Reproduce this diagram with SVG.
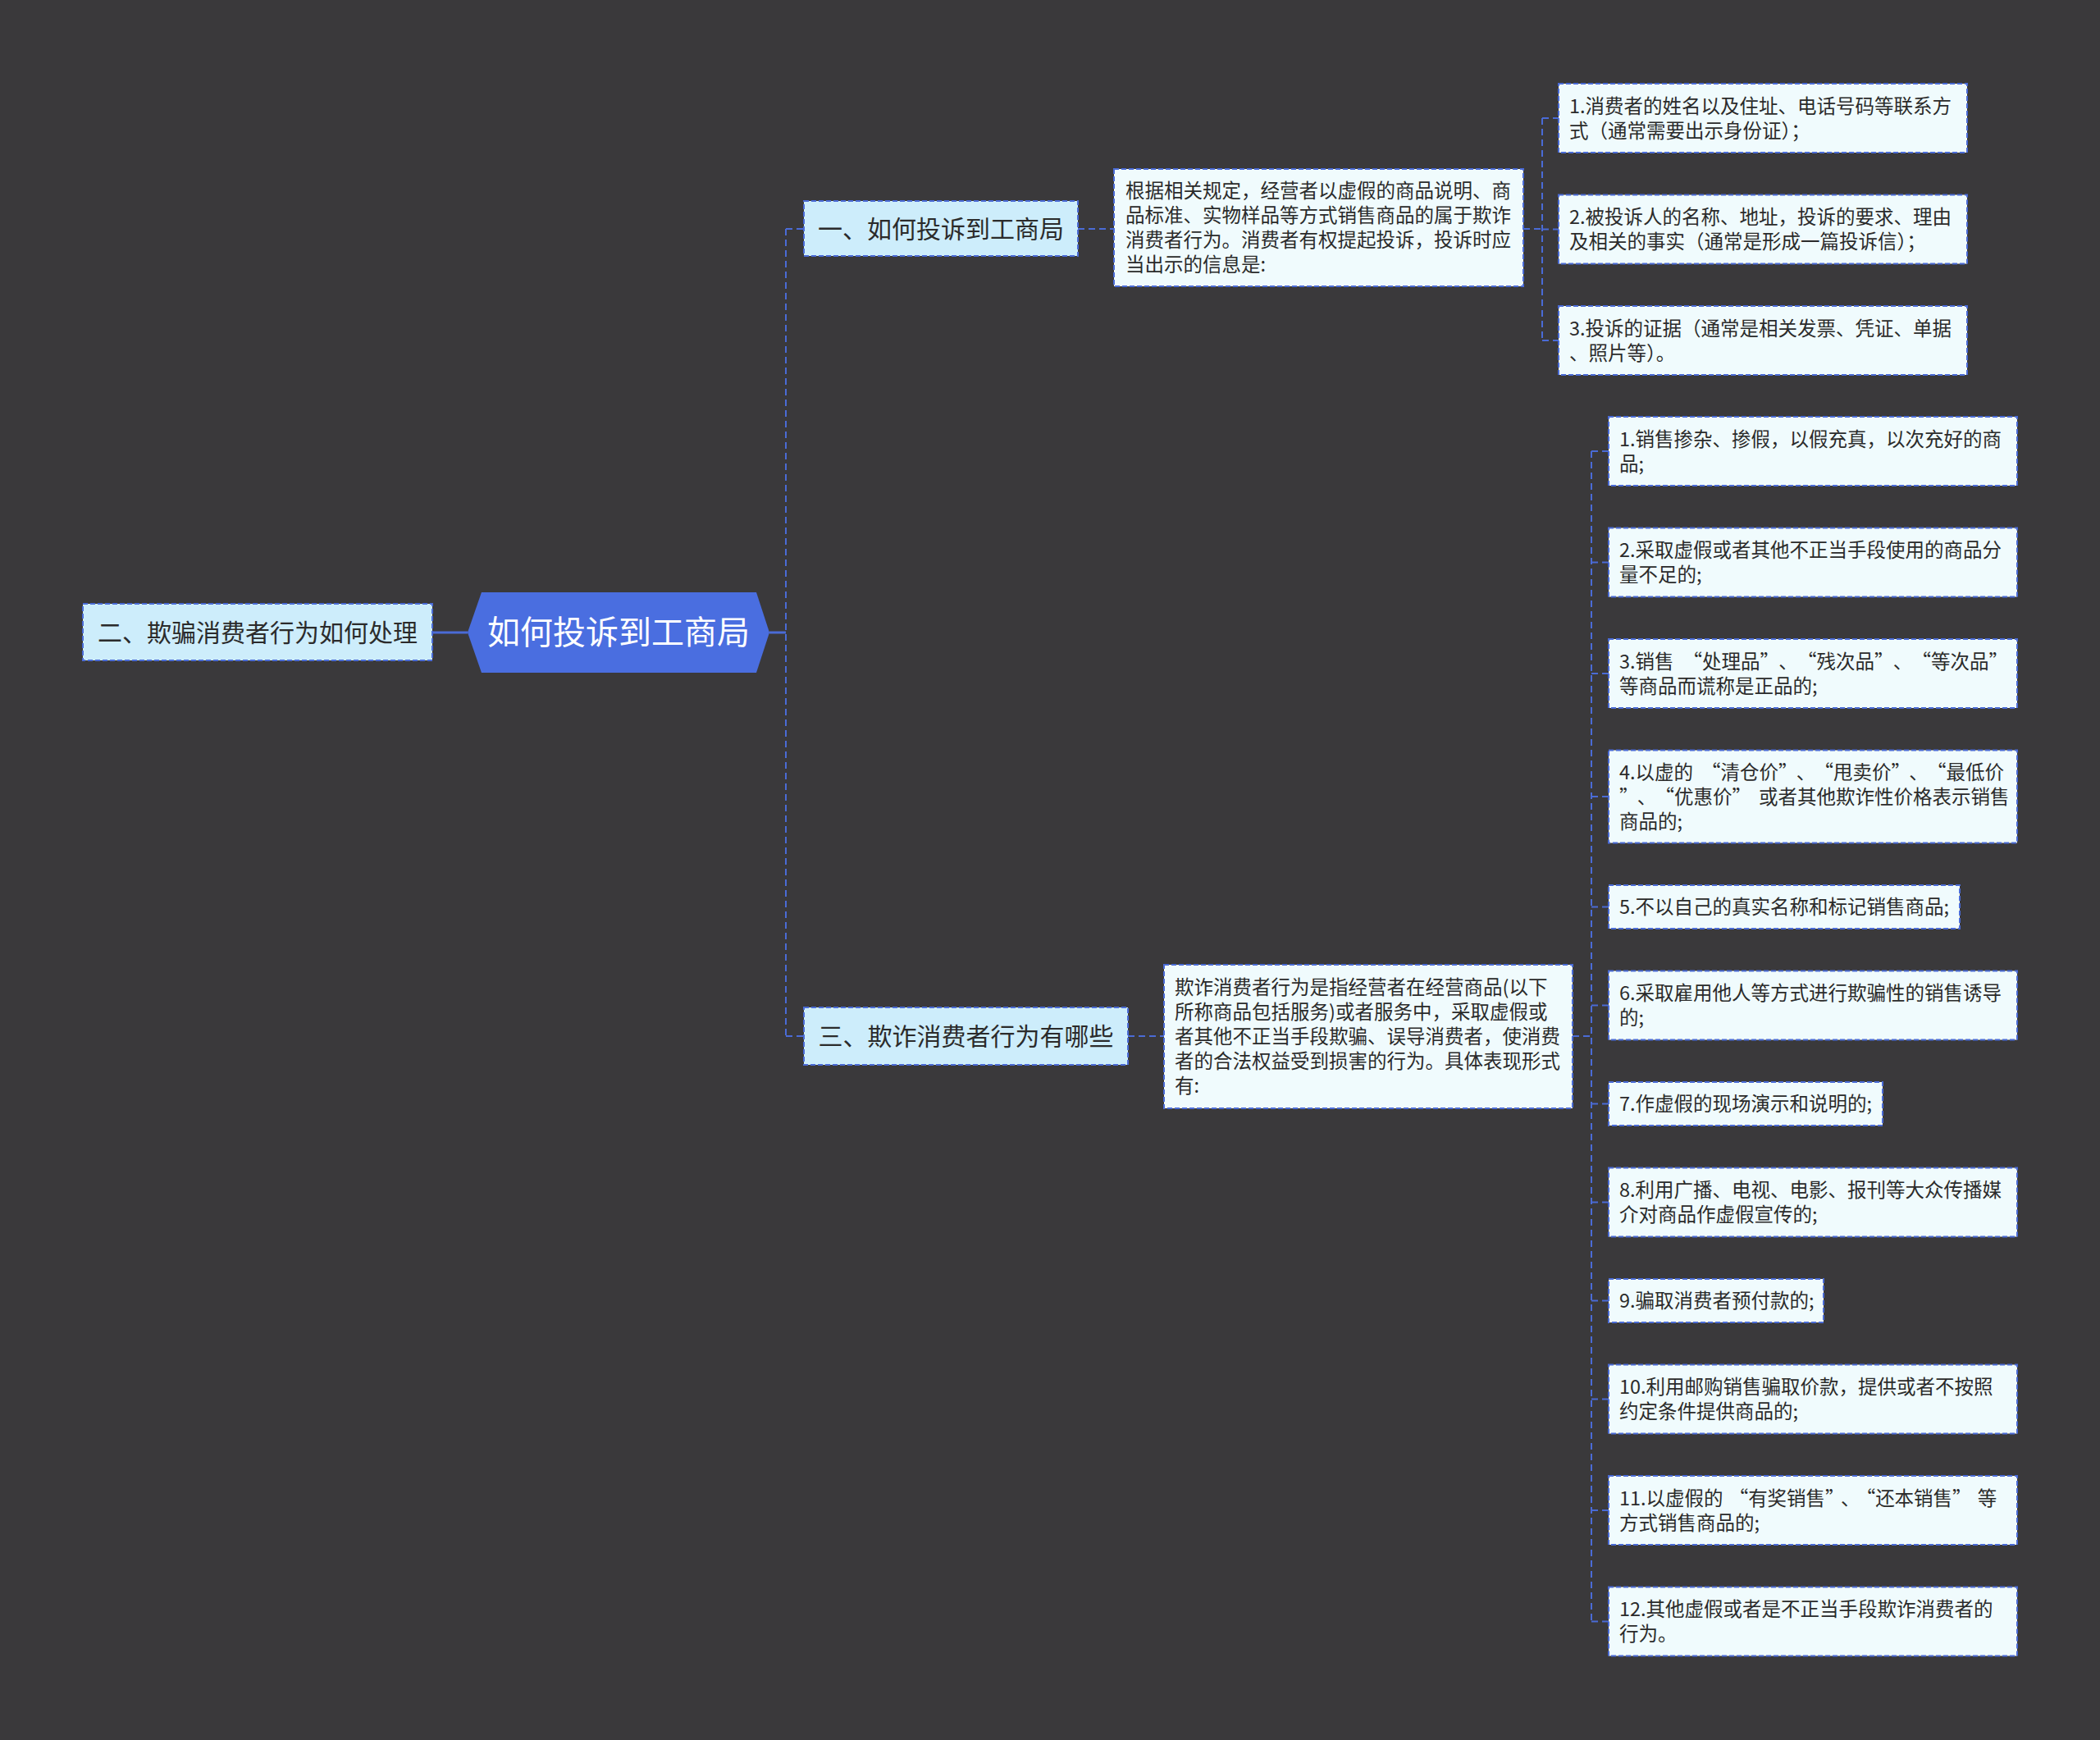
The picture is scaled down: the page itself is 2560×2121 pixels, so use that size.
<svg xmlns="http://www.w3.org/2000/svg" width="2560" height="2121" viewBox="0 0 2560 2121">
<style>
.bg{fill:#3a393b}
.conn{fill:none;stroke:#4a6bd6;stroke-width:2;stroke-dasharray:8 5}
.solid{fill:none;stroke:#4a6bd6;stroke-width:3}
.l1{fill:#cdedfb;stroke:#4a6bd6;stroke-width:2;stroke-dasharray:6 3}
.box{fill:#f0fbfd;stroke:#4a6bd6;stroke-width:2;stroke-dasharray:6 3}
.t{font-family:"Noto Sans CJK SC","Noto Sans",sans-serif;font-size:23.5px;fill:#2b2b2b}
.t1{font-family:"Noto Sans CJK SC","Noto Sans",sans-serif;font-size:30px;fill:#2b2b2b;text-anchor:middle}
.root{font-family:"Noto Sans CJK SC","Noto Sans",sans-serif;font-size:40px;fill:#ffffff;text-anchor:middle}
</style>
<rect class="bg" x="0" y="0" width="2560" height="2121"/>
<g id="connectors">
<path class="solid" d="M527 771 H570"/>
<path class="solid" d="M938 771 H958"/>
<path class="conn" d="M958 279 V1263 M958 279 H980 M958 1263 H980"/>
<path class="conn" d="M1314 279 H1358"/>
<path class="conn" d="M1857 279 H1880 M1880 144 V415 M1880 144 H1900 M1880 279.5 H1900 M1880 415 H1900"/>
<path class="conn" d="M1375 1263 H1419"/>
<path class="conn" d="M1917 1263 H1940 M1940 550 V1976.5 M1940 550 H1961 M1940 685.5 H1961 M1940 821 H1961 M1940 971 H1961 M1940 1105.5 H1961 M1940 1225.5 H1961 M1940 1345.5 H1961 M1940 1465.5 H1961 M1940 1585.5 H1961 M1940 1705.5 H1961 M1940 1841 H1961 M1940 1976.5 H1961"/>
</g>
<g id="root">
<polygon points="570,771 587,722 922,722 938,771 922,820 587,820" fill="#4a6ee0"/>
<text class="root" x="754" y="785">如何投诉到工商局</text>
</g>
<g id="n2">
<rect class="l1" x="101" y="736" width="426" height="69"/>
<text class="t1" x="314" y="782">二、欺骗消费者行为如何处理</text>
</g>
<g id="n1">
<rect class="l1" x="980" y="245" width="334" height="67"/>
<text class="t1" x="1147" y="290">一、如何投诉到工商局</text>
</g>
<g id="n3">
<rect class="l1" x="980" y="1228" width="395" height="70"/>
<text class="t1" x="1177.5" y="1274">三、欺诈消费者行为有哪些</text>
</g>
<g id="d1">
<rect class="box" x="1358" y="206" width="499" height="143"/>
<text class="t" x="1372" y="241"><tspan x="1372">根据相关规定，经营者以虚假的商品说明、商</tspan><tspan x="1372" dy="30">品标准、实物样品等方式销售商品的属于欺诈</tspan><tspan x="1372" dy="30">消费者行为。消费者有权提起投诉，投诉时应</tspan><tspan x="1372" dy="30">当出示的信息是:</tspan></text>
</g>
<g id="d2">
<rect class="box" x="1419" y="1176" width="498" height="175"/>
<text class="t" x="1432" y="1212"><tspan x="1432">欺诈消费者行为是指经营者在经营商品(以下</tspan><tspan x="1432" dy="30">所称商品包括服务)或者服务中，采取虚假或</tspan><tspan x="1432" dy="30">者其他不正当手段欺骗、误导消费者，使消费</tspan><tspan x="1432" dy="30">者的合法权益受到损害的行为。具体表现形式</tspan><tspan x="1432" dy="30">有:</tspan></text>
</g>
<g id="a1">
<rect class="box" x="1900" y="102" width="498" height="84"/>
<text class="t" x="1913" y="137.5"><tspan x="1913">1.消费者的姓名以及住址、电话号码等联系方</tspan><tspan x="1913" dy="30">式（通常需要出示身份证）；</tspan></text>
</g>
<g id="a2">
<rect class="box" x="1900" y="237.5" width="498" height="84"/>
<text class="t" x="1913" y="273"><tspan x="1913">2.被投诉人的名称、地址，投诉的要求、理由</tspan><tspan x="1913" dy="30">及相关的事实（通常是形成一篇投诉信）；</tspan></text>
</g>
<g id="a3">
<rect class="box" x="1900" y="373" width="498" height="84"/>
<text class="t" x="1913" y="408.5"><tspan x="1913">3.投诉的证据（通常是相关发票、凭证、单据</tspan><tspan x="1913" dy="30">、照片等）。</tspan></text>
</g>
<g id="b1">
<rect class="box" x="1961" y="508" width="498" height="84"/>
<text class="t" x="1974" y="543.5"><tspan x="1974">1.销售掺杂、掺假，以假充真，以次充好的商</tspan><tspan x="1974" dy="30">品;</tspan></text>
</g>
<g id="b2">
<rect class="box" x="1961" y="643.5" width="498" height="84"/>
<text class="t" x="1974" y="679"><tspan x="1974">2.采取虚假或者其他不正当手段使用的商品分</tspan><tspan x="1974" dy="30">量不足的;</tspan></text>
</g>
<g id="b3">
<rect class="box" x="1961" y="779" width="498" height="84"/>
<text class="t" x="1974" y="814.5"><tspan x="1974">3.销售<tspan dx="11">“</tspan>处理品”<tspan dx="11">、</tspan><tspan dx="11">“</tspan>残次品”<tspan dx="11">、</tspan><tspan dx="11">“</tspan>等次品”</tspan><tspan x="1974" dy="30">等商品而谎称是正品的;</tspan></text>
</g>
<g id="b4">
<rect class="box" x="1961" y="914.5" width="498" height="113"/>
<text class="t" x="1974" y="949.5"><tspan x="1974">4.以虚的<tspan dx="10">“</tspan>清仓价”<tspan dx="10">、</tspan><tspan dx="10">“</tspan>甩卖价”<tspan dx="10">、</tspan><tspan dx="10">“</tspan>最低价</tspan><tspan x="1974" dy="30">”<tspan dx="10">、</tspan><tspan dx="10">“</tspan>优惠价”<tspan dx="9">或者其他欺诈性价格表示销售</tspan></tspan><tspan x="1974" dy="30">商品的;</tspan></text>
</g>
<g id="b5">
<rect class="box" x="1961" y="1079" width="428" height="53"/>
<text class="t" x="1974" y="1114">5.不以自己的真实名称和标记销售商品;</text>
</g>
<g id="b6">
<rect class="box" x="1961" y="1183.5" width="498" height="84"/>
<text class="t" x="1974" y="1219"><tspan x="1974">6.采取雇用他人等方式进行欺骗性的销售诱导</tspan><tspan x="1974" dy="30">的;</tspan></text>
</g>
<g id="b7">
<rect class="box" x="1961" y="1319" width="334" height="53"/>
<text class="t" x="1974" y="1354">7.作虚假的现场演示和说明的;</text>
</g>
<g id="b8">
<rect class="box" x="1961" y="1423.5" width="498" height="84"/>
<text class="t" x="1974" y="1459"><tspan x="1974">8.利用广播、电视、电影、报刊等大众传播媒</tspan><tspan x="1974" dy="30">介对商品作虚假宣传的;</tspan></text>
</g>
<g id="b9">
<rect class="box" x="1961" y="1559" width="262" height="53"/>
<text class="t" x="1974" y="1594">9.骗取消费者预付款的;</text>
</g>
<g id="b10">
<rect class="box" x="1961" y="1663.5" width="498" height="84"/>
<text class="t" x="1974" y="1699"><tspan x="1974">10.利用邮购销售骗取价款，提供或者不按照</tspan><tspan x="1974" dy="30">约定条件提供商品的;</tspan></text>
</g>
<g id="b11">
<rect class="box" x="1961" y="1799" width="498" height="84"/>
<text class="t" x="1974" y="1834.5"><tspan x="1974">11.以虚假的<tspan dx="7">“</tspan>有奖销售”<tspan dx="7">、</tspan><tspan dx="7">“</tspan>还本销售”<tspan dx="7">等</tspan></tspan><tspan x="1974" dy="30">方式销售商品的;</tspan></text>
</g>
<g id="b12">
<rect class="box" x="1961" y="1934.5" width="498" height="84"/>
<text class="t" x="1974" y="1970"><tspan x="1974">12.其他虚假或者是不正当手段欺诈消费者的</tspan><tspan x="1974" dy="30">行为。</tspan></text>
</g>
</svg>
